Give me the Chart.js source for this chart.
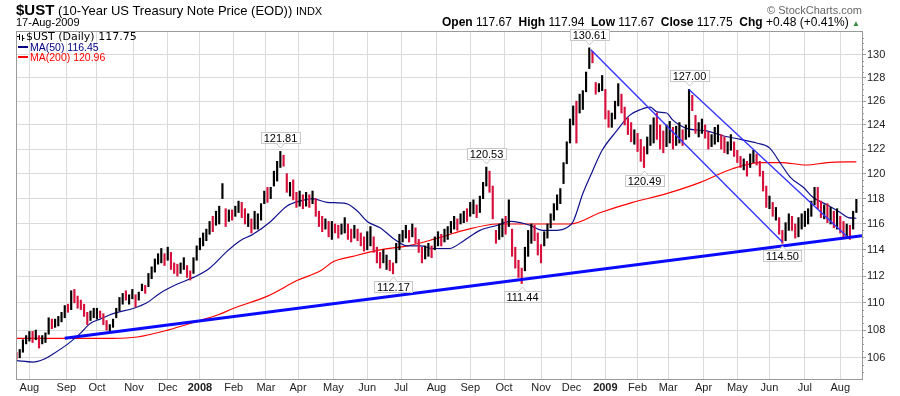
<!DOCTYPE html>
<html>
<head>
<meta charset="utf-8">
<title>$UST 10-Year US Treasury Note Price</title>
<script src="https://cdn.jsdelivr.net/npm/chart.js@4.4.1/dist/chart.umd.min.js"></script>
<style>
  body { margin: 0; background: #fff; }
  #wrap { position: relative; width: 900px; height: 396px; font-family: "Liberation Sans", Arial, sans-serif; color: #000; }
  #chart { position: absolute; left: 0; top: 0; }
  .hdr { position: absolute; white-space: nowrap; }
  #title { left: 16px; top: 2px; font-size: 13px; line-height: 15px; }
  #title b { font-size: 15px; }
  #title .small { font-size: 11px; }
  #date { left: 16px; top: 17px; font-size: 11px; line-height: 11px; }
  #credit { right: 38px; top: 5px; font-size: 11px; line-height: 11px; color: #666; }
  #quote { right: 40px; top: 16px; font-size: 12px; line-height: 12px; }
  #quote .up { color: #2e8b3a; font-size: 8px; }
</style>
</head>
<body>
<div id="wrap">
  <canvas id="chart" width="900" height="396"></canvas>
  <div class="hdr" id="title"><b>$UST</b> (10-Year US Treasury Note Price (EOD)) <span class="small">INDX</span></div>
  <div class="hdr" id="date">17-Aug-2009</div>
  <div class="hdr" id="credit">© StockCharts.com</div>
  <div class="hdr" id="quote"><b>Open</b> 117.67&nbsp; <b>High</b> 117.94&nbsp; <b>Low</b> 117.67&nbsp; <b>Close</b> 117.75&nbsp; <b>Chg</b> +0.48 (+0.41%) <span class="up">&#9650;</span></div>
</div>
<script>
// x values are trading-day indexes: 0 = 20-Jul-2007 ... 522 = 17-Aug-2009

const monthStarts = [8, 31, 50, 73, 94, 114, 135, 155, 175, 197, 218, 239, 261, 282, 303, 326, 345, 366, 386, 405, 427, 448, 468, 490, 512];
const monthLabels = ['Aug', 'Sep', 'Oct', 'Nov', 'Dec', '2008', 'Feb', 'Mar', 'Apr', 'May', 'Jun', 'Jul', 'Aug', 'Sep', 'Oct', 'Nov', 'Dec', '2009', 'Feb', 'Mar', 'Apr', 'May', 'Jun', 'Jul', 'Aug'];
const priceTicks = [106, 108, 110, 112, 114, 116, 118, 120, 122, 124, 126, 128, 130];

// price bars, one per two trading days (low / high / up-day flag)
const barLow = [
  105.9, 106.0, 106.4, 107.0, 107.2, 107.1, 107.3, 106.7, 107.0, 107.1,
  107.7, 108.1, 108.2, 108.3, 108.6, 108.9, 109.3, 109.5, 110.0, 109.6,
  109.5, 109.0, 108.4, 108.7, 108.9, 108.8, 108.9, 108.4, 108.0, 107.9,
  108.2, 108.9, 109.4, 109.9, 110.2, 109.9, 110.3, 109.7, 110.2, 110.9,
  110.7, 111.2, 111.8, 112.3, 112.9, 113.0, 112.8, 113.2, 112.5, 112.2,
  112.0, 112.2, 112.5, 111.9, 111.7, 112.2, 113.2, 114.0, 114.3, 114.7,
  115.2, 115.4, 115.9, 116.0, 118.0, 115.8, 116.2, 116.3, 116.6, 116.9,
  116.5, 116.0, 115.8, 115.3, 115.6, 115.6, 116.3, 117.6, 117.7, 118.0,
  119.0, 119.4, 120.5, 120.6, 118.5, 118.2, 117.9, 117.3, 117.4, 117.2,
  117.4, 117.3, 117.6, 116.6, 115.8, 115.4, 115.6, 115.0, 114.8, 115.3,
  114.9, 115.2, 115.3, 114.8, 114.6, 114.9, 114.7, 114.3, 113.9, 114.0,
  114.3, 113.8, 113.0, 112.6, 113.0, 112.5, 112.4, 112.17, 113.0, 114.0,
  114.6, 114.9, 114.6, 115.0, 114.5, 113.8, 113.0, 113.3, 113.5, 113.4,
  114.0, 114.3, 114.3, 114.6, 114.8, 115.3, 115.6, 115.5, 116.0, 116.1,
  116.2, 116.6, 116.8, 116.5, 116.9, 118.0, 119.0, 118.5, 116.4, 114.5,
  114.8, 115.0, 115.2, 115.8, 113.5, 112.6, 111.9, 111.44, 112.4, 113.5,
  114.5, 114.7, 113.6, 113.0, 114.3, 114.9, 115.7, 116.3, 117.1, 117.6,
  119.2, 120.8, 122.5, 124.0, 122.5, 125.0, 125.3, 126.8, 128.8, 129.3,
  126.6, 126.8, 126.9, 124.5, 123.8, 123.8, 124.5, 125.6, 125.0, 124.0,
  123.2, 122.6, 122.4, 121.8, 121.0, 120.49, 121.6, 122.3, 122.5, 122.8,
  122.0, 121.7, 122.2, 122.5, 122.0, 122.3, 122.5, 122.3, 122.8, 123.0,
  125.2, 123.3, 123.0, 123.3, 122.9, 122.0, 122.2, 122.4, 122.6, 122.0,
  121.7, 121.6, 121.9, 121.4, 120.9, 120.5, 120.3, 119.8, 120.5, 120.9,
  120.7, 119.8, 118.6, 117.3, 117.2, 116.6, 116.3, 115.2, 114.5, 114.7,
  115.5, 115.5, 114.9, 115.0, 115.6, 115.8, 116.0, 116.6, 117.5, 117.2,
  116.5, 116.4, 116.1, 116.0, 115.7, 115.6, 115.3, 114.9, 115.0, 114.8,
  115.6, 116.9
];
const barHigh = [
  106.4, 106.6, 107.3, 107.6, 107.9, 107.9, 108.0, 107.6, 107.6, 107.8,
  108.9, 108.8, 108.8, 109.0, 109.3, 109.8, 109.9, 110.9, 111.0, 110.5,
  110.2, 109.9, 109.3, 109.4, 109.6, 109.6, 109.4, 109.2, 108.7, 108.4,
  108.8, 109.6, 110.4, 110.7, 110.9, 110.6, 111.0, 110.6, 110.8, 111.4,
  111.3, 112.2, 112.7, 113.3, 113.7, 114.1, 113.7, 114.2, 113.8, 113.0,
  112.9, 113.0, 113.4, 112.8, 112.4, 113.4, 114.3, 114.9, 115.3, 115.6,
  116.2, 116.6, 117.0, 117.4, 119.2, 117.2, 117.1, 117.1, 117.4, 117.8,
  117.7, 117.2, 116.8, 116.4, 117.0, 116.8, 117.6, 118.6, 118.9, 118.9,
  120.2, 121.0, 121.81, 121.5, 120.0, 119.3, 119.5, 118.5, 118.6, 118.3,
  118.5, 118.3, 118.6, 118.0, 117.0, 116.6, 116.4, 116.2, 116.2, 116.0,
  115.9, 116.0, 116.5, 116.0, 115.6, 115.9, 115.6, 115.3, 115.0, 115.4,
  115.8, 115.0, 114.2, 113.8, 114.0, 113.6, 113.2, 113.0, 114.5, 115.2,
  115.5, 115.9, 115.5, 116.0, 115.7, 114.8, 114.2, 114.3, 114.5, 114.3,
  115.0, 115.4, 115.2, 115.6, 115.8, 116.2, 116.6, 116.4, 116.8, 117.0,
  117.2, 117.7, 117.9, 117.5, 118.2, 119.3, 120.53, 120.2, 119.0, 115.5,
  116.0, 116.4, 116.6, 117.9, 115.6, 114.2, 113.2, 112.6, 114.2, 115.5,
  116.0, 115.9, 115.3, 114.4, 115.4, 116.0, 116.8, 117.6, 118.3, 118.8,
  120.9, 122.6, 124.5, 125.6, 126.0, 126.6, 126.9, 128.5, 130.61, 130.3,
  127.6, 127.5, 128.2, 127.0, 125.2, 125.0, 126.0, 127.5, 126.6, 125.5,
  124.6, 124.2, 123.6, 123.3, 122.8, 122.2, 123.0, 124.0, 124.6, 125.0,
  124.0, 123.5, 124.0, 124.3, 123.8, 123.9, 124.2, 123.6, 124.0, 127.0,
  126.5, 124.8, 124.2, 124.5, 124.0, 123.4, 123.2, 123.8, 124.0, 123.2,
  123.0, 122.6, 123.2, 122.6, 121.9, 121.4, 121.2, 121.0, 121.6, 121.9,
  121.6, 121.0, 120.2, 119.0, 118.2, 117.7, 117.3, 116.5, 115.5, 116.1,
  116.8, 116.6, 116.0, 116.5, 116.8, 117.0, 117.2, 117.8, 118.9, 118.9,
  117.8, 117.5, 117.6, 117.3, 117.0, 117.2, 116.6, 116.2, 116.0, 115.9,
  117.0, 117.94
];
const barUp = [
  0, 1, 1, 1, 1, 0, 1, 0, 1, 1,
  1, 0, 1, 1, 1, 1, 0, 1, 0, 0,
  0, 0, 0, 1, 1, 1, 0, 0, 0, 1,
  1, 1, 1, 1, 0, 1, 1, 0, 1, 1,
  0, 1, 1, 1, 1, 1, 0, 1, 0, 0,
  0, 1, 1, 0, 0, 1, 1, 1, 1, 1,
  1, 0, 1, 1, 1, 0, 1, 0, 1, 1,
  0, 0, 1, 0, 1, 1, 1, 1, 0, 1,
  1, 1, 1, 0, 0, 1, 0, 0, 1, 0,
  1, 0, 1, 0, 0, 0, 1, 0, 1, 0,
  0, 1, 1, 0, 0, 1, 0, 0, 0, 1,
  1, 0, 0, 0, 1, 1, 0, 0, 1, 1,
  1, 1, 0, 1, 0, 0, 0, 1, 1, 0,
  1, 1, 0, 1, 1, 1, 1, 0, 1, 1,
  0, 1, 1, 0, 1, 1, 1, 0, 0, 0,
  1, 1, 0, 1, 0, 0, 0, 0, 1, 1,
  1, 0, 0, 0, 1, 1, 1, 1, 1, 1,
  1, 1, 1, 1, 0, 1, 1, 1, 1, 0,
  0, 1, 1, 0, 0, 1, 1, 1, 0, 0,
  0, 0, 1, 0, 0, 0, 1, 1, 1, 0,
  0, 0, 1, 1, 0, 1, 1, 0, 1, 1,
  0, 0, 1, 1, 0, 0, 1, 1, 1, 0,
  0, 1, 1, 0, 0, 0, 1, 0, 1, 1,
  0, 0, 0, 0, 1, 0, 1, 0, 0, 1,
  1, 0, 0, 1, 1, 1, 1, 1, 1, 0,
  0, 1, 0, 1, 0, 1, 0, 0, 1, 0,
  1, 1
];

// moving averages
const ma50Days = [0, 10, 17, 23, 32, 40, 46, 52, 60, 73, 81, 89, 100, 110, 120, 131, 139, 147, 158, 168, 176, 184, 193, 205, 212, 218, 226, 234, 243, 251, 259, 269, 278, 288, 299, 307, 313, 319, 327, 336, 342, 346, 352, 358, 364, 373, 381, 388, 394, 398, 404, 408, 412, 417, 429, 439, 450, 460, 468, 475, 481, 489, 495, 504, 512, 517, 522];
const ma50Values = [105.8, 105.7, 105.9, 106.3, 107.0, 107.8, 108.5, 108.8, 109.2, 109.6, 110.0, 110.7, 111.4, 111.9, 112.6, 113.9, 114.7, 115.2, 116.2, 117.4, 117.8, 118.0, 117.7, 117.6, 117.0, 116.2, 115.7, 114.9, 114.3, 114.3, 114.1, 114.1, 114.7, 115.5, 115.9, 116.2, 116.1, 115.9, 115.5, 115.5, 115.7, 116.2, 118.4, 120.2, 121.9, 123.5, 124.8, 125.3, 125.5, 125.1, 125.0, 124.4, 124.0, 123.7, 123.5, 123.1, 122.8, 122.5, 122.1, 120.8, 119.7, 118.9, 118.1, 117.5, 116.9, 116.5, 116.45];
const ma200Days = [0, 30, 60, 75, 94, 114, 125, 135, 156, 175, 189, 197, 209, 226, 243, 259, 278, 299, 319, 344, 363, 383, 404, 425, 445, 462, 475, 491, 504, 522];
const ma200Values = [107.4, 107.4, 107.4, 107.5, 108.0, 108.7, 109.1, 109.6, 110.5, 111.7, 112.4, 113.1, 113.5, 114.0, 114.3, 114.8, 115.5, 116.0, 116.0, 116.0, 116.9, 117.7, 118.4, 119.3, 120.4, 120.9, 120.9, 120.7, 120.9, 120.96];

// hand-drawn trend lines (start / end)
const supportDays = [30, 525.5];
const supportValues = [107.4, 115.08];
const channelADays = [357, 476];
const channelAValues = [130.45, 114.6];
const channelBDays = [418, 516];
const channelBValues = [127.0, 115.05];

// annotated highs and lows
const markerDays = [164, 292, 356, 418, 234, 314, 390, 476];
const markerValues = [121.81, 120.53, 130.61, 127.00, 112.17, 111.44, 120.49, 114.50];
const markerAbove = [1, 1, 1, 1, 0, 0, 0, 0];

const lastClose = 117.75;
const lastMa50 = 116.45;
const lastMa200 = 120.96;

const toPoints = (days, values) => days.map((d, i) => ({ x: d, y: values[i] }));

/**
 * Frame, minor ticks, inline legend and the price call-outs
 */
const chartExtras = {
    id: 'chartExtras',
    afterDraw(chart) {
        const { ctx, chartArea: a, scales: { x, y } } = chart;
        ctx.save();

        // frame round the plot
        ctx.strokeStyle = '#9a9a9a';
        ctx.lineWidth = 1;
        ctx.strokeRect(a.left + 0.5, a.top + 0.5, a.right - a.left, a.bottom - a.top);

        // minor ticks on the price axis
        for (let v = 105; v <= 131.5; v += 0.5) {
            if (v % 2 === 0) continue;
            const py = Math.round(y.getPixelForValue(v)) + 0.5;
            ctx.beginPath();
            ctx.moveTo(a.right, py);
            ctx.lineTo(a.right + 2, py);
            ctx.stroke();
        }

        // legend, top left inside the plot
        ctx.strokeStyle = '#000';
        ctx.beginPath();
        ctx.moveTo(a.left + 3.5, a.top + 3); ctx.lineTo(a.left + 3.5, a.top + 9);
        ctx.moveTo(a.left + 1, a.top + 5.5); ctx.lineTo(a.left + 3.5, a.top + 5.5);
        ctx.moveTo(a.left + 6.5, a.top + 4); ctx.lineTo(a.left + 6.5, a.top + 10);
        ctx.moveTo(a.left + 6.5, a.top + 7.5); ctx.lineTo(a.left + 8.5, a.top + 7.5);
        ctx.stroke();

        ctx.textAlign = 'left';
        ctx.textBaseline = 'alphabetic';
        ctx.fillStyle = '#000';
        ctx.font = '11px "DejaVu Sans", Verdana, sans-serif';
        ctx.fillText('$UST (Daily) ' + lastClose.toFixed(2), a.left + 10, a.top + 9);

        ctx.font = '10.5px "Liberation Sans", Arial, sans-serif';
        ctx.lineWidth = 2;
        ctx.strokeStyle = '#000080';
        ctx.beginPath(); ctx.moveTo(a.left + 2, a.top + 16); ctx.lineTo(a.left + 12, a.top + 16); ctx.stroke();
        ctx.fillStyle = '#000080';
        ctx.fillText('MA(50) ' + lastMa50.toFixed(2), a.left + 14, a.top + 20);
        ctx.strokeStyle = '#ff0000';
        ctx.beginPath(); ctx.moveTo(a.left + 2, a.top + 26); ctx.lineTo(a.left + 12, a.top + 26); ctx.stroke();
        ctx.fillStyle = '#ff0000';
        ctx.fillText('MA(200) ' + lastMa200.toFixed(2), a.left + 14, a.top + 30);

        // call-outs on the turning points
        ctx.lineWidth = 1;
        ctx.font = '11px "Liberation Sans", Arial, sans-serif';
        ctx.textAlign = 'center';
        ctx.textBaseline = 'middle';
        markerDays.forEach((d, k) => {
            const px = Math.round(x.getPixelForValue(d)) + 0.5;
            const py = Math.round(y.getPixelForValue(markerValues[k]));
            const label = markerValues[k].toFixed(2);
            const w = Math.round(ctx.measureText(label).width) + 6;
            const h = 12;
            const above = markerAbove[k] === 1;
            const top = above ? py - 7 - h : py + 7;
            const left = Math.round(px - w / 2);

            ctx.fillStyle = '#fff';
            ctx.strokeStyle = '#c8c8c8';
            ctx.fillRect(left, top, w, h);
            ctx.strokeRect(left + 0.5, top + 0.5, w - 1, h - 1);
            ctx.beginPath();
            if (above) {
                ctx.moveTo(px - 4, top + h - 0.5); ctx.lineTo(px, top + h + 4); ctx.lineTo(px + 4, top + h - 0.5);
            } else {
                ctx.moveTo(px - 4, top + 0.5); ctx.lineTo(px, top - 4); ctx.lineTo(px + 4, top + 0.5);
            }
            ctx.fill();
            ctx.stroke();
            ctx.fillStyle = '#000';
            ctx.fillText(label, px, top + h / 2 + 0.5);
        });

        ctx.restore();
    }
};

new Chart(document.getElementById('chart'), {
    type: 'bar',
    data: {
        datasets: [
            {
                type: 'line',
                data: toPoints(supportDays, supportValues),
                borderColor: '#0a0aff',
                borderWidth: 3,
                pointRadius: 0,
                order: 1
            },
            {
                type: 'line',
                data: toPoints(channelADays, channelAValues),
                borderColor: '#3535ff',
                borderWidth: 1.4,
                pointRadius: 0,
                order: 1
            },
            {
                type: 'line',
                data: toPoints(channelBDays, channelBValues),
                borderColor: '#3535ff',
                borderWidth: 1.4,
                pointRadius: 0,
                order: 1
            },
            {
                type: 'bar',
                data: barHigh.map((h, j) => ({ x: j * 2, y: [barLow[j], h] })),
                backgroundColor: barUp.map(u => u ? '#000000' : '#d8103c'),
                barThickness: 1.5,
                grouped: false,
                order: 2
            },
            {
                type: 'line',
                data: toPoints(ma50Days, ma50Values),
                borderColor: '#10108c',
                borderWidth: 1.2,
                pointRadius: 0,
                cubicInterpolationMode: 'monotone',
                order: 3
            },
            {
                type: 'line',
                data: toPoints(ma200Days, ma200Values),
                borderColor: '#ff0000',
                borderWidth: 1.2,
                pointRadius: 0,
                cubicInterpolationMode: 'monotone',
                order: 3
            }
        ]
    },
    options: {
        responsive: false,
        animation: false,
        devicePixelRatio: 1,
        layout: { padding: { left: 16, top: 31, right: 0, bottom: 0 } },
        plugins: {
            legend: { display: false },
            tooltip: { enabled: false }
        },
        scales: {
            x: {
                type: 'linear',
                min: -0.3,
                max: 525.5,
                offset: false,
                grid: { color: '#dadada', offset: false, drawTicks: false },
                border: { color: '#9a9a9a' },
                afterBuildTicks: scale => { scale.ticks = monthStarts.map(v => ({ value: v })); },
                afterFit: scale => { scale.height = 17; },
                ticks: {
                    autoSkip: false,
                    maxRotation: 0,
                    padding: 2,
                    color: '#222',
                    font: c => ({ size: 11, weight: /^\d{4}$/.test(monthLabels[c.index]) ? 'bold' : 'normal' }),
                    callback: (v, i) => monthLabels[i]
                }
            },
            y: {
                type: 'logarithmic',
                position: 'right',
                min: 104.5,
                max: 132.1,
                beginAtZero: false,
                grid: { color: '#dadada', tickLength: 4, tickColor: '#9a9a9a' },
                border: { color: '#9a9a9a' },
                afterBuildTicks: scale => { scale.ticks = priceTicks.map(v => ({ value: v })); },
                afterFit: scale => { scale.width = 38; },
                ticks: {
                    padding: 1,
                    color: '#222',
                    font: { size: 11 },
                    callback: v => String(v)
                }
            }
        }
    },
    plugins: [chartExtras]
});

Chart.defaults.font.family = '"Liberation Sans", Arial, sans-serif';
</script>
</body>
</html>
